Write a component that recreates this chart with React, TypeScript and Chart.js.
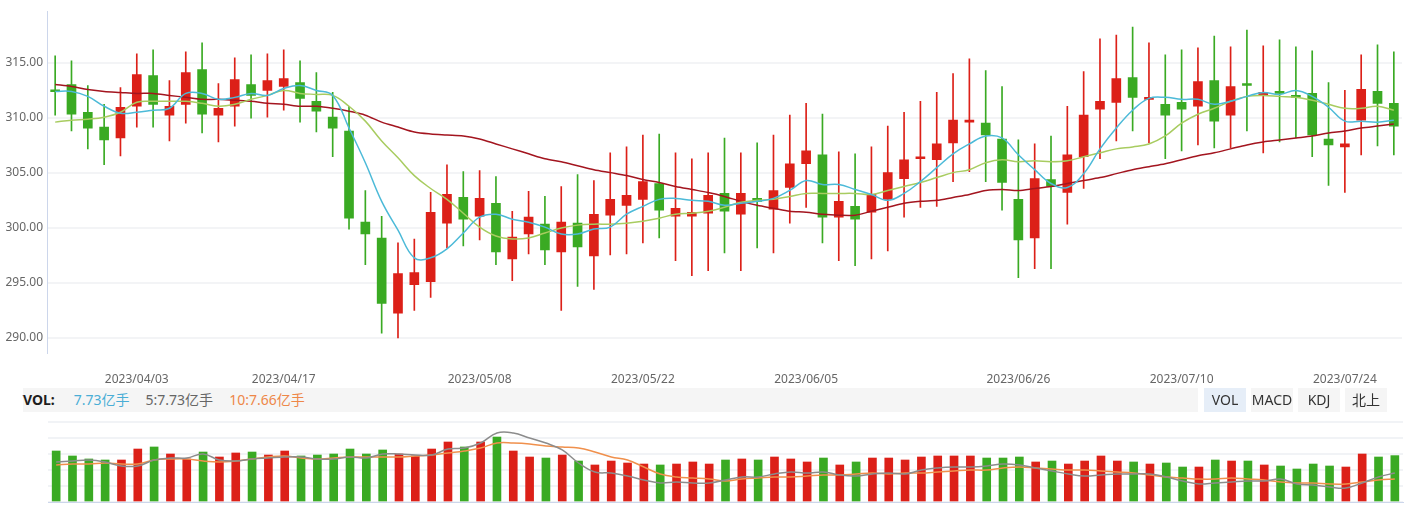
import React, { useEffect, useRef } from 'react';
import { Chart, registerables } from 'chart.js';

Chart.register(...registerables);

const DATES = [
  '2023/03/27', '2023/03/28', '2023/03/29', '2023/03/30', '2023/03/31',
  '2023/04/03', '2023/04/04', '2023/04/06', '2023/04/07', '2023/04/10',
  '2023/04/11', '2023/04/12', '2023/04/13', '2023/04/14', '2023/04/17',
  '2023/04/18', '2023/04/19', '2023/04/20', '2023/04/21', '2023/04/24',
  '2023/04/25', '2023/04/26', '2023/04/27', '2023/04/28', '2023/05/04',
  '2023/05/05', '2023/05/08', '2023/05/09', '2023/05/10', '2023/05/11',
  '2023/05/12', '2023/05/15', '2023/05/16', '2023/05/17', '2023/05/18',
  '2023/05/19', '2023/05/22', '2023/05/23', '2023/05/24', '2023/05/25',
  '2023/05/26', '2023/05/29', '2023/05/30', '2023/05/31', '2023/06/01',
  '2023/06/02', '2023/06/05', '2023/06/06', '2023/06/07', '2023/06/08',
  '2023/06/09', '2023/06/12', '2023/06/13', '2023/06/14', '2023/06/15',
  '2023/06/16', '2023/06/19', '2023/06/20', '2023/06/21', '2023/06/26',
  '2023/06/27', '2023/06/28', '2023/06/29', '2023/06/30', '2023/07/03',
  '2023/07/04', '2023/07/05', '2023/07/06', '2023/07/07', '2023/07/10',
  '2023/07/11', '2023/07/12', '2023/07/13', '2023/07/14', '2023/07/17',
  '2023/07/18', '2023/07/19', '2023/07/20', '2023/07/21', '2023/07/24',
  '2023/07/25', '2023/07/26', '2023/07/27',
];

const DATE_TICKS = [
  '2023/04/03', '2023/04/17', '2023/05/08', '2023/05/22',
  '2023/06/05', '2023/06/26', '2023/07/10', '2023/07/24',
];

const PRICE_TICKS = [290, 295, 300, 305, 310, 315];

const OPEN = [
  312.39, 313.02, 310.5, 309.15, 308.16, 311.04, 313.83, 310.23, 311.22, 314.37,
  310.23, 311.04, 313.02, 312.48, 312.84, 313.2, 311.49, 310.05, 308.79, 300.51,
  299.07, 292.23, 294.84, 295.11, 300.42, 302.76, 301.05, 302.22, 297.18, 299.43,
  300.33, 297.81, 300.42, 297.45, 301.14, 302.04, 302.58, 304.02, 301.05, 301.05,
  301.32, 303.12, 301.23, 302.67, 301.68, 303.66, 305.82, 306.63, 300.96, 301.95,
  301.41, 302.58, 304.47, 306.27, 306.18, 307.71, 309.6, 309.51, 308.07, 302.58,
  299.07, 304.38, 303.21, 306.45, 310.77, 311.4, 313.65, 311.67, 311.22, 311.4,
  311.04, 313.38, 310.23, 313.02, 312.03, 312.39, 312.03, 312.21, 308.07, 307.35,
  309.78, 312.39, 311.31,
];

const HIGH = [
  315.63, 315.18, 312.93, 311.22, 312.75, 315.81, 316.17, 313.38, 315.99, 316.8,
  313.11, 315.45, 315.72, 315.81, 316.17, 315.18, 314.1, 312.3, 311.04, 303.39,
  301.05, 298.62, 298.98, 303.21, 305.73, 305.1, 305.19, 304.65, 301.5, 303.3,
  302.85, 303.75, 304.83, 304.29, 306.81, 307.35, 308.43, 308.52, 306.81, 306.27,
  306.81, 308.16, 306.81, 307.71, 308.43, 310.23, 311.31, 310.32, 306.9, 306.72,
  307.35, 309.24, 310.5, 311.49, 312.3, 314.01, 315.36, 314.28, 312.84, 307.98,
  307.62, 308.34, 311.04, 314.19, 317.16, 317.52, 318.24, 316.8, 315.72, 316.17,
  316.35, 317.43, 316.44, 317.97, 316.53, 317.07, 316.44, 316.08, 313.2, 312.48,
  315.72, 316.62, 315.99,
];

const LOW = [
  310.23, 308.79, 307.17, 305.73, 306.54, 309.15, 309.15, 307.89, 309.51, 308.61,
  307.8, 309.24, 309.96, 310.05, 310.68, 309.6, 308.7, 306.45, 299.88, 296.64,
  290.43, 289.98, 292.5, 293.67, 298.17, 298.35, 298.89, 296.64, 295.2, 297.63,
  296.64, 292.5, 294.66, 294.39, 297.54, 297.63, 298.62, 299.07, 297.0, 295.65,
  296.1, 297.72, 296.1, 298.17, 297.72, 300.42, 301.86, 298.62, 297.0, 296.55,
  297.18, 297.9, 300.96, 301.86, 301.95, 304.2, 305.1, 304.2, 301.59, 295.47,
  296.28, 296.28, 300.33, 303.57, 306.27, 307.89, 308.79, 307.71, 306.27, 306.99,
  307.53, 307.26, 307.26, 308.79, 306.81, 307.8, 308.16, 306.45, 303.84, 303.21,
  306.63, 307.44, 306.63,
];

const CLOSE = [
  312.36, 310.32, 309.06, 307.98, 310.95, 313.92, 311.22, 311.04, 314.1, 310.32,
  310.86, 313.47, 312.03, 313.38, 313.56, 311.76, 310.59, 309.06, 300.87, 299.43,
  293.13, 295.83, 295.92, 301.41, 303.03, 300.78, 302.67, 297.81, 299.16, 300.96,
  297.99, 300.51, 298.26, 301.23, 302.58, 302.94, 304.2, 301.59, 301.77, 301.41,
  302.94, 301.5, 303.12, 302.4, 303.39, 305.82, 306.99, 300.96, 302.4, 300.78,
  303.03, 305.01, 306.18, 306.45, 307.62, 309.78, 309.78, 308.43, 304.11, 298.89,
  304.47, 303.75, 306.63, 310.23, 311.49, 313.56, 311.85, 311.85, 310.23, 310.77,
  313.29, 309.69, 312.84, 312.93, 312.3, 312.21, 311.85, 308.43, 307.53, 307.62,
  312.57, 311.31, 309.24,
];

const MA5 = [
  312.39, 312.39, 311.94, 311.04, 310.41, 310.5, 310.68, 310.86, 312.21, 312.21,
  311.67, 311.85, 312.21, 312.03, 312.66, 312.93, 312.48, 312.03, 309.06, 305.91,
  302.4, 299.79, 297.27, 297.27, 298.08, 299.52, 300.96, 301.23, 300.78, 300.51,
  300.06, 299.43, 299.43, 299.88, 300.06, 301.23, 301.95, 302.58, 302.67, 302.49,
  302.4, 302.04, 302.22, 302.4, 302.67, 303.39, 304.29, 303.93, 303.93, 303.48,
  303.03, 302.49, 303.12, 304.2, 305.46, 306.72, 307.62, 308.34, 308.16, 306.63,
  305.28, 304.02, 303.66, 304.92, 307.17, 309.06, 310.68, 311.76, 311.85, 311.67,
  311.67, 311.22, 311.49, 311.94, 312.3, 312.12, 312.48, 311.94, 310.95, 309.69,
  309.69, 309.6, 309.78,
];

const MA10 = [
  309.6, 309.78, 309.87, 310.05, 310.5, 311.4, 311.49, 311.49, 311.49, 311.31,
  311.04, 311.22, 311.67, 312.03, 312.48, 312.21, 312.12, 312.03, 311.04, 309.69,
  307.89, 306.36, 304.74, 303.57, 302.58, 301.32, 300.06, 299.25, 298.98, 299.07,
  299.52, 299.97, 300.24, 300.33, 300.33, 300.42, 300.6, 300.87, 301.23, 301.32,
  301.5, 301.86, 302.31, 302.49, 302.58, 302.85, 303.12, 303.12, 303.12, 303.12,
  303.03, 303.39, 303.75, 304.11, 304.56, 305.01, 305.28, 305.91, 306.18, 306.0,
  306.09, 306.0, 306.09, 306.45, 306.81, 307.17, 307.35, 307.62, 308.34, 309.51,
  310.32, 310.86, 311.49, 311.94, 312.03, 311.94, 311.85, 311.58, 311.22, 310.86,
  310.86, 311.04, 310.68,
];

const MA20 = [
  313.02, 312.84, 312.57, 312.39, 312.3, 312.21, 312.21, 312.03, 311.85, 311.67,
  311.67, 311.58, 311.49, 311.31, 311.22, 311.04, 311.04, 310.86, 310.59, 310.23,
  309.6, 309.15, 308.7, 308.52, 308.43, 308.34, 308.07, 307.62, 307.17, 306.72,
  306.27, 306.0, 305.64, 305.28, 305.01, 304.74, 304.38, 304.11, 303.75, 303.48,
  303.21, 302.85, 302.4, 302.04, 301.77, 301.5, 301.41, 301.23, 301.14, 301.14,
  301.5, 301.86, 302.22, 302.4, 302.49, 302.76, 303.03, 303.39, 303.48, 303.39,
  303.57, 303.75, 304.02, 304.29, 304.56, 304.92, 305.28, 305.55, 305.82, 306.18,
  306.54, 306.81, 307.17, 307.53, 307.8, 307.98, 308.16, 308.34, 308.61, 308.79,
  309.06, 309.24, 309.42,
];

const VOLUME = [
  8.5, 7.67, 7.17, 7.0, 7.0, 8.83, 9.17, 8.0, 7.17, 8.33,
  7.5, 8.17, 8.33, 7.83, 8.5, 7.67, 7.83, 8.0, 8.83, 8.0,
  8.67, 8.0, 7.67, 8.83, 10.0, 9.17, 10.0, 10.83, 8.5, 7.5,
  7.33, 7.83, 6.83, 6.17, 6.83, 6.5, 6.33, 6.17, 6.33, 6.67,
  6.33, 7.0, 7.17, 7.0, 7.5, 7.17, 6.67, 7.33, 6.17, 6.67,
  7.33, 7.33, 7.0, 7.5, 7.67, 7.67, 7.67, 7.33, 7.33, 7.5,
  6.67, 6.83, 6.33, 6.83, 7.67, 6.83, 6.67, 6.33, 6.5, 5.83,
  5.83, 7.0, 6.83, 6.83, 6.17, 6.0, 5.5, 6.33, 6.0, 5.83,
  8.0, 7.5, 7.73,
];

const VOL_MA5 = [
  6.67, 6.83, 7.0, 6.67, 6.0, 6.0, 7.0, 7.33, 7.33, 8.0,
  7.0, 6.83, 7.17, 7.33, 7.5, 7.5, 7.17, 7.17, 7.5, 7.33,
  8.0, 8.0, 7.83, 7.83, 8.83, 9.0, 9.83, 11.5, 11.5, 10.67,
  9.83, 8.67, 6.5, 5.0, 4.83, 4.33, 3.67, 3.17, 3.33, 3.17,
  3.17, 3.67, 4.17, 4.17, 4.67, 5.0, 4.83, 5.0, 4.5, 4.33,
  4.67, 4.83, 4.67, 5.33, 5.67, 5.83, 5.83, 6.0, 6.33, 6.17,
  5.67, 5.17, 4.67, 4.33, 4.5, 4.67, 4.67, 4.67, 4.17, 3.5,
  3.0, 3.17, 3.33, 3.5, 3.5, 3.83, 3.0, 2.83, 2.5, 2.33,
  3.17, 4.17, 4.83,
];

const VOL_MA10 = [
  6.17, 6.33, 6.33, 6.5, 6.33, 6.33, 7.0, 7.17, 7.17, 6.83,
  6.67, 6.83, 7.17, 7.5, 7.67, 7.33, 7.17, 7.33, 7.5, 7.5,
  7.5, 7.5, 7.67, 7.83, 8.17, 8.5, 9.0, 9.83, 9.83, 9.67,
  9.33, 9.17, 9.0, 8.33, 7.5, 7.0, 5.83, 4.67, 4.17, 4.0,
  3.83, 3.5, 3.83, 4.0, 4.17, 4.17, 4.33, 4.5, 4.5, 4.67,
  4.83, 4.67, 4.83, 4.83, 5.0, 5.17, 5.33, 5.33, 5.67, 5.83,
  5.67, 5.5, 5.33, 5.33, 5.17, 5.0, 4.83, 4.5, 4.17, 4.0,
  3.83, 3.83, 4.0, 3.83, 3.67, 3.33, 3.17, 3.17, 3.0, 3.0,
  3.33, 3.67, 3.83,
];

const VOL_LEGEND = [
  { text: '7.73亿手', color: '#4aaed6' },
  { text: '5:7.73亿手', color: '#666666' },
  { text: '10:7.66亿手', color: '#ee8748' },
];

const TABS = ['VOL', 'MACD', 'KDJ', '北上'];

const RED = '#dc2018';
const GREEN = '#3aaa23';
const FONT = '"Noto Sans", "Noto Sans CJK SC", sans-serif';

export default function App() {
  const mainRef = useRef<HTMLCanvasElement>(null);
  const volRef = useRef<HTMLCanvasElement>(null);

  useEffect(() => {
    Chart.defaults.font.family = FONT;
    const colors = DATES.map((_, i) => (CLOSE[i] > OPEN[i] ? RED : GREEN));
    const lineBase = { type: 'line' as const, pointRadius: 0, borderWidth: 1.5, fill: false, order: 0 };

    const main = new Chart(mainRef.current as HTMLCanvasElement, {
      type: 'bar',
      data: {
        labels: DATES,
        datasets: [
          { ...lineBase, data: MA5, borderColor: '#4cbad8', tension: 0.4 } as any,
          { ...lineBase, data: MA10, borderColor: '#a8cc60', tension: 0.4 } as any,
          { ...lineBase, data: MA20, borderColor: '#a3151f', tension: 0.3 } as any,
          {
            type: 'bar',
            data: DATES.map((_, i) => [Math.min(OPEN[i], CLOSE[i]), Math.max(OPEN[i], CLOSE[i])]),
            backgroundColor: colors,
            barThickness: 9,
            minBarLength: 2,
            grouped: false,
            order: 2,
          } as any,
          {
            type: 'bar',
            data: DATES.map((_, i) => [LOW[i], HIGH[i]]),
            backgroundColor: colors,
            barThickness: 1,
            grouped: false,
            order: 3,
          } as any,
        ],
      },
      options: {
        responsive: false,
        animation: false,
        devicePixelRatio: 1,
        layout: { padding: { top: 8, right: 12, left: 0, bottom: 0 } },
        plugins: { legend: { display: false }, tooltip: { enabled: false } },
        scales: {
          x: {
            offset: true,
            grid: { display: false },
            border: { display: false },
            ticks: {
              autoSkip: false,
              maxRotation: 0,
              minRotation: 0,
              padding: 11,
              color: '#666666',
              font: { family: FONT, size: 12 },
              callback: (_v: any, i: number) => (DATE_TICKS.includes(DATES[i]) ? DATES[i] : ''),
            },
            afterFit: (s: any) => {
              s.height = 37;
            },
          },
          y: {
            min: 288.62,
            max: 319.68,
            afterBuildTicks: (s: any) => {
              s.ticks = PRICE_TICKS.map((v) => ({ value: v }));
            },
            afterFit: (s: any) => {
              s.width = 47;
            },
            grid: { color: '#f3f4f6', lineWidth: 2, drawTicks: false },
            border: { color: '#ccd6eb', width: 1 },
            ticks: {
              padding: 4,
              color: '#666666',
              font: { family: FONT, size: 12 },
              callback: (v: any) => Number(v).toFixed(2),
            },
          },
        },
      } as any,
    });

    const vol = new Chart(volRef.current as HTMLCanvasElement, {
      type: 'bar',
      data: {
        labels: DATES,
        datasets: [
          { ...lineBase, data: VOL_MA5, borderColor: '#8c8c8c', tension: 0.4 } as any,
          { ...lineBase, data: VOL_MA10, borderColor: '#f0904c', tension: 0.4 } as any,
          {
            type: 'bar',
            data: VOLUME,
            backgroundColor: colors,
            barThickness: 8,
            order: 1,
          } as any,
        ],
      },
      options: {
        responsive: false,
        animation: false,
        devicePixelRatio: 1,
        layout: { padding: { top: 7, right: 11, left: 0, bottom: 0 } },
        plugins: { legend: { display: false }, tooltip: { enabled: false } },
        scales: {
          x: {
            offset: true,
            grid: { display: false },
            border: { color: '#ccd6eb', width: 1 },
            ticks: { display: false },
            afterFit: (s: any) => {
              s.height = 5;
            },
          },
          y: {
            min: 0,
            max: 13.333,
            ticks: { display: false, count: 6 },
            grid: { color: '#f1f3f6', lineWidth: 2, drawTicks: false },
            border: { display: false },
            afterFit: (s: any) => {
              s.width = 48;
            },
          },
        },
      } as any,
    });

    return () => {
      main.destroy();
      vol.destroy();
    };
  }, []);

  return (
    <div
      style={{
        position: 'absolute',
        left: 0,
        top: 0,
        width: 1414,
        height: 507,
        background: '#ffffff',
        fontFamily: FONT,
        overflow: 'hidden',
      }}
    >
      <canvas
        ref={mainRef}
        width={1414}
        height={390}
        style={{ position: 'absolute', left: 0, top: 0, width: 1414, height: 390 }}
      />
      <div
        style={{
          position: 'absolute',
          left: 23,
          top: 388,
          width: 1175,
          height: 24,
          background: '#f5f5f5',
          lineHeight: '24px',
          fontSize: 14,
          whiteSpace: 'nowrap',
        }}
      >
        <span style={{ fontWeight: 700, color: '#1e1e1e', marginRight: 19 }}>VOL:</span>
        {VOL_LEGEND.map((l, i) => (
          <span key={i} style={{ color: l.color, marginRight: 16 }}>
            {l.text}
          </span>
        ))}
      </div>
      {TABS.map((t, i) => (
        <div
          key={t}
          style={{
            position: 'absolute',
            left: 1204 + i * 47,
            top: 388,
            width: 42,
            height: 24,
            lineHeight: '24px',
            textAlign: 'center',
            fontSize: 14,
            color: '#333333',
            background: i === 0 ? '#e6eef8' : '#f5f5f5',
          }}
        >
          {t}
        </div>
      ))}
      <canvas
        ref={volRef}
        width={1414}
        height={92}
        style={{ position: 'absolute', left: 0, top: 415, width: 1414, height: 92 }}
      />
    </div>
  );
}
